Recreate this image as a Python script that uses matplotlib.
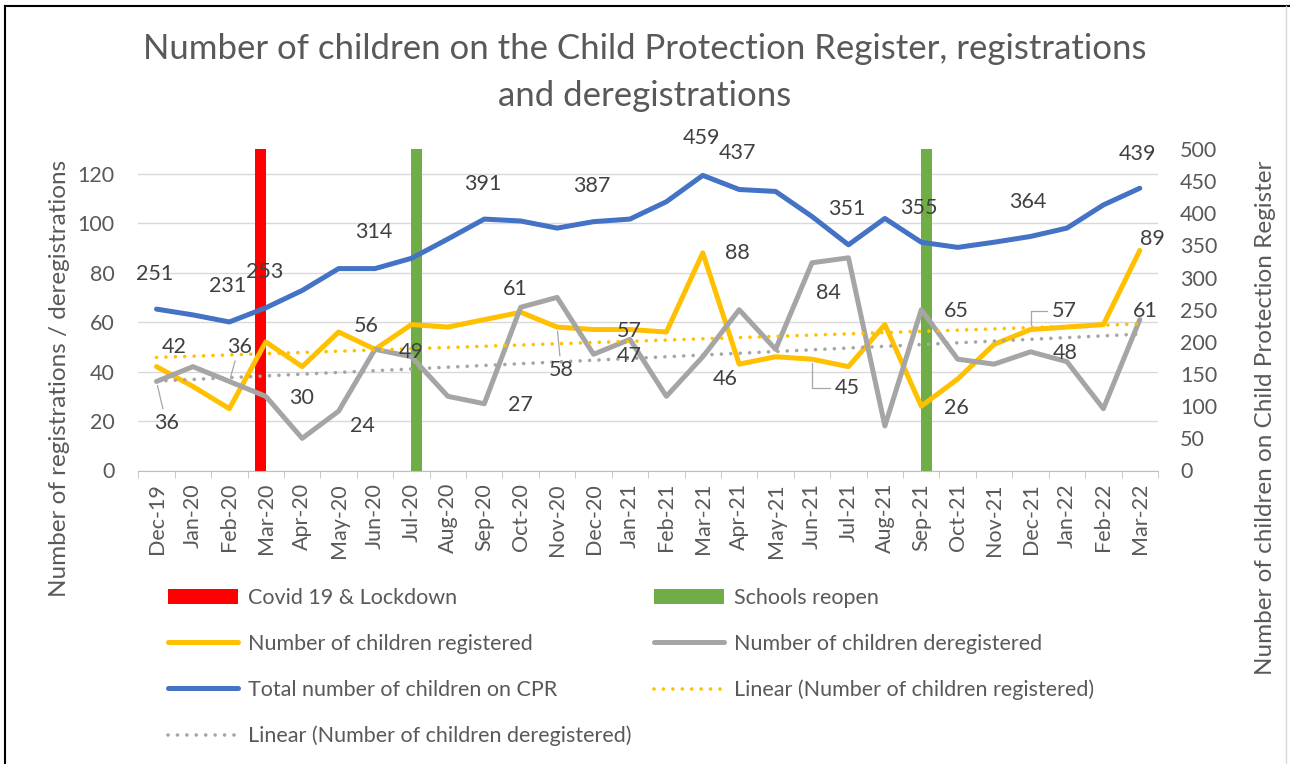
import numpy as np
import matplotlib
matplotlib.use('Agg')
import matplotlib.pyplot as plt
from matplotlib.lines import Line2D
from matplotlib.patches import Patch

plt.rcParams['font.family'] = ['Lato', 'DejaVu Sans']

# ---- data ----
months = ['Dec-19', 'Jan-20', 'Feb-20', 'Mar-20', 'Apr-20', 'May-20', 'Jun-20',
          'Jul-20', 'Aug-20', 'Sep-20', 'Oct-20', 'Nov-20', 'Dec-20', 'Jan-21',
          'Feb-21', 'Mar-21', 'Apr-21', 'May-21', 'Jun-21', 'Jul-21', 'Aug-21',
          'Sep-21', 'Oct-21', 'Nov-21', 'Dec-21', 'Jan-22', 'Feb-22', 'Mar-22']
registered = [42, 34, 25, 52, 42, 56, 49, 59, 58, 61, 64, 58, 57, 57,
              56, 88, 43, 46, 45, 42, 59, 26, 37, 51, 57, 58, 59, 89]
deregistered = [36, 42, 36, 30, 13, 24, 49, 46, 30, 27, 66, 70, 47, 53,
                30, 46, 65, 49, 84, 86, 18, 65, 45, 43, 48, 44, 25, 61]
total_cpr = [251, 242, 231, 253, 280, 314, 314, 330, 360, 391, 388, 377, 387, 391,
             418, 459, 437, 434, 395, 351, 392, 355, 347, 355, 364, 377, 413, 439]
lockdown_months = ['Mar-20']
reopen_months = ['Jul-20', 'Sep-21']

# data labels: (month, dx pt, dy pt, leader)
total_labels = [('Dec-19', -1, 25, None), ('Feb-20', -1, 26, None), ('Mar-20', -1, 26, None),
                ('Jun-20', -1, 26, None), ('Sep-20', -1, 25, None), ('Dec-20', -1, 26, None),
                ('Mar-21', -1, 27, None), ('Apr-21', -1, 26, None), ('Jul-21', -1, 26, None),
                ('Sep-21', -2, 25, None), ('Dec-21', -2, 25, None), ('Mar-22', -2, 25, None)]
reg_labels = [('Dec-19', 13, 14, None), ('May-20', 20, 4, None), ('Sep-20', 22, 22, None),
              ('Nov-20', 3, -31, 'line'), ('Dec-20', 26, -1, None), ('Mar-21', 25, 0, None),
              ('Jun-21', 25, -21, 'angle'), ('Sep-21', 25, -1, None), ('Dec-21', 24, 13, 'angle'),
              ('Mar-22', 9, 8, None)]
dereg_labels = [('Dec-19', 7, -30, 'line'), ('Feb-20', 7, 25, 'line'), ('Mar-20', 26, -1, None),
                ('May-20', 17, -11, None), ('Jun-20', 26, -2, None), ('Sep-20', 26, -1, None),
                ('Dec-20', 26, -1, None), ('Mar-21', 16, -16, None), ('Jun-21', 12, -22, None),
                ('Sep-21', 25, -1, None), ('Dec-21', 25, -1, None), ('Mar-22', 4, 6, None)]

W, H = 1290, 764
fig = plt.figure(figsize=(12.9, 7.64), dpi=100)


def fx(px):
    return px / W


def fy(py):
    return 1 - py / H


ax = fig.add_axes([fx(138.3), fy(470.5), fx(1158) - fx(138.3), fy(149) - fy(470.5)])
ax2 = ax.twinx()

x = np.arange(len(months))
ymax = 130
ax.set_xlim(-0.5, len(months) - 0.5)
ax.set_ylim(0, ymax)
ax2.set_ylim(0, 500)

txt = '#595959'
lbl = '#404040'
fs = 15.5

# event bars
lock_x = np.array([months.index(m) for m in lockdown_months])
reopen_x = np.array([months.index(m) for m in reopen_months])
ax.bar(lock_x - 0.146, ymax, width=0.29, color='#FF0000', zorder=2)
ax.bar(reopen_x + 0.146, ymax, width=0.29, color='#70AD47', zorder=2)

ax.plot(x, registered, color='#FFC000', lw=3.6, solid_capstyle='round',
        solid_joinstyle='round', zorder=3)
ax.plot(x, deregistered, color='#A5A5A5', lw=3.6, solid_capstyle='round',
        solid_joinstyle='round', zorder=4)

dots = (0, (0.01, 2.6))
reg_fit = np.polyval(np.polyfit(x, registered, 1), x)
dereg_fit = np.polyval(np.polyfit(x, deregistered, 1), x)
ax.plot(x, reg_fit, color='#FFC000', lw=2.6, linestyle=dots, dash_capstyle='round', zorder=5)
ax.plot(x, dereg_fit, color='#A5A5A5', lw=2.6, linestyle=dots, dash_capstyle='round', zorder=5)

ax2.plot(x, total_cpr, color='#4472C4', lw=3.6, solid_capstyle='round',
         solid_joinstyle='round', zorder=3)

# axes styling
ax.set_yticks(np.arange(0, 121, 20))
ax.yaxis.grid(True, color='#d9d9d9', lw=1)
ax.set_axisbelow(True)
for s in ['top', 'left', 'right']:
    ax.spines[s].set_visible(False)
ax.spines['bottom'].set_color('#bfbfbf')
for s in ax2.spines.values():
    s.set_visible(False)
ax.set_xticks(x)
ax.set_xticklabels(months, rotation=90)
ax.set_xticks(np.arange(-0.5, len(months), 1), minor=True)
ax.tick_params(axis='x', which='major', length=0, pad=9, labelsize=fs, labelcolor=txt)
ax.tick_params(axis='x', which='minor', length=5, color='#bfbfbf')
ax.tick_params(axis='y', length=0, pad=17, labelsize=fs, labelcolor=txt)
ax2.set_yticks(np.arange(0, 501, 50))
ax2.tick_params(axis='y', length=0, pad=16, labelsize=fs, labelcolor=txt)


def put_labels(a, values, specs):
    for m, dx, dy, leader in specs:
        i = months.index(m)
        kw = {}
        if leader == 'line':
            kw['arrowprops'] = dict(arrowstyle='-', color='#a6a6a6', lw=0.9,
                                    shrinkA=1, shrinkB=3)
        elif leader == 'angle':
            kw['arrowprops'] = dict(arrowstyle='-', color='#a6a6a6', lw=0.9,
                                    shrinkA=1, shrinkB=3,
                                    connectionstyle='angle,angleA=0,angleB=90,rad=0')
        a.annotate(str(values[i]), (i, values[i]), xytext=(dx, dy),
                   textcoords='offset points', ha='center', va='center',
                   fontsize=fs, color=lbl, zorder=6, **kw)


put_labels(ax, registered, reg_labels)
put_labels(ax, deregistered, dereg_labels)
put_labels(ax2, total_cpr, total_labels)

# titles
fig.text(0.5, fy(59), 'Number of children on the Child Protection Register, registrations',
         ha='center', va='baseline', fontsize=25, color=txt)
fig.text(0.5, fy(106), 'and deregistrations', ha='center', va='baseline',
         fontsize=25, color=txt)
fig.text(fx(60), fy(378), 'Number of registrations / deregistrations', rotation=90,
         ha='center', va='center', fontsize=17.5, color=txt)
fig.text(fx(1266), fy(418), 'Number of children on Child Protection Register', rotation=90,
         ha='center', va='center', fontsize=17.5, color=txt)

# legend
h_covid = Patch(facecolor='#FF0000')
h_school = Patch(facecolor='#70AD47')
h_reg = Line2D([0], [0], color='#FFC000', lw=3.6, solid_capstyle='round')
h_dereg = Line2D([0], [0], color='#A5A5A5', lw=3.6, solid_capstyle='round')
h_total = Line2D([0], [0], color='#4472C4', lw=3.6, solid_capstyle='round')
h_lreg = Line2D([0], [0], color='#FFC000', lw=2.6, linestyle=dots, dash_capstyle='round')
h_ldereg = Line2D([0], [0], color='#A5A5A5', lw=2.6, linestyle=dots, dash_capstyle='round')

leg_fs = 15.5
leg_kw = dict(loc='upper left', frameon=False, borderpad=0, borderaxespad=0,
              handlelength=70 / (leg_fs * 100 / 72), handletextpad=0.45, labelspacing=1.2,
              fontsize=leg_fs, labelcolor=txt)
fig.legend([h_covid, h_reg, h_total, h_ldereg],
           ['Covid 19 & Lockdown', 'Number of children registered',
            'Total number of children on CPR', 'Linear (Number of children deregistered)'],
           bbox_to_anchor=(fx(168), fy(588)), **leg_kw)
fig.legend([h_school, h_dereg, h_lreg],
           ['Schools reopen', 'Number of children deregistered',
            'Linear (Number of children registered)'],
           bbox_to_anchor=(fx(654), fy(588)), **leg_kw)

# chart border
fig.add_artist(Line2D([fx(5), fx(5)], [0, fy(6)], color='black', lw=1.5))
fig.add_artist(Line2D([fx(5), 1], [fy(6), fy(6)], color='black', lw=1.5))
fig.add_artist(Line2D([fx(1286), fx(1286)], [0, fy(6)], color='#d9d9d9', lw=1))

fig.savefig('out.png', dpi=100)
